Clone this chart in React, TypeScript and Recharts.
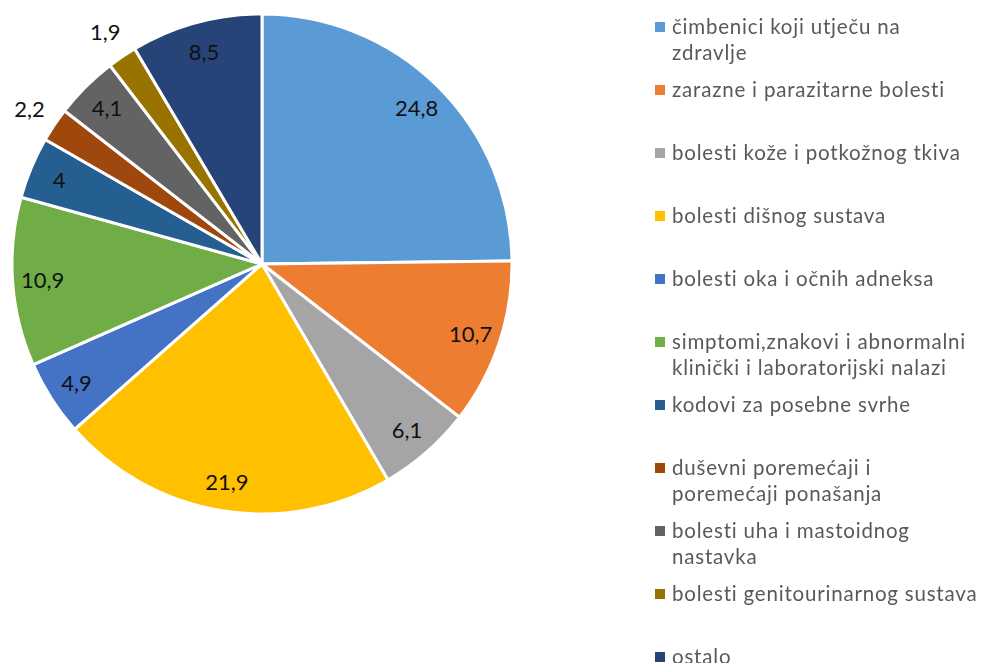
import { PieChart, Pie, Cell, Legend } from 'recharts'

const categories = [
  'čimbenici koji utječu na\nzdravlje',
  'zarazne i parazitarne bolesti',
  'bolesti kože i potkožnog tkiva',
  'bolesti dišnog sustava',
  'bolesti oka i očnih adneksa',
  'simptomi,znakovi i abnormalni\nklinički i laboratorijski nalazi',
  'kodovi za posebne svrhe',
  'duševni poremećaji i\nporemećaji ponašanja',
  'bolesti uha i mastoidnog\nnastavka',
  'bolesti genitourinarnog sustava',
  'ostalo',
]

const shares = [24.8, 10.7, 6.1, 21.9, 4.9, 10.9, 4, 2.2, 4.1, 1.9, 8.5]

const colors = [
  '#5B9BD5', '#ED7D31', '#A5A5A5', '#FFC000', '#4472C4', '#70AD47',
  '#255E91', '#9E480E', '#636363', '#997300', '#264478',
]

const data = categories.map((name, i) => ({ name, value: shares[i] }))

const RAD = Math.PI / 180
const FONT = 'Lato, "Open Sans", sans-serif'

// labels sit inside the slice; the thin ones get pushed outside (Excel "best fit")
function renderLabel(props: any) {
  const { cx, cy, midAngle, outerRadius, value } = props
  const r = value < 3 ? outerRadius * 1.12 : outerRadius * 0.88
  const x = cx + r * Math.cos(-midAngle * RAD)
  const y = cy + r * Math.sin(-midAngle * RAD)
  return (
    <text
      x={x}
      y={y}
      fill="#111"
      fontSize={22}
      fontFamily={FONT}
      textAnchor="middle"
      dominantBaseline="central"
    >
      {String(value).replace('.', ',')}
    </text>
  )
}

function LegendList() {
  return (
    <div style={{ fontFamily: FONT, fontSize: 20.5, letterSpacing: 0.8, color: '#595959' }}>
      {categories.map((name, i) => (
        <div key={i} style={{ height: 63, display: 'flex', alignItems: 'flex-start' }}>
          <span
            style={{
              width: 10,
              height: 10,
              background: colors[i],
              marginTop: 8,
              marginRight: 7,
              flexShrink: 0,
            }}
          />
          <span style={{ whiteSpace: 'pre-line', lineHeight: '25.5px' }}>{name}</span>
        </div>
      ))}
    </div>
  )
}

export default function App() {
  return (
    <div style={{ position: 'fixed', left: 0, top: 0, width: 983, height: 663, background: '#fff' }}>
      <PieChart width={983} height={663} margin={{ top: 0, right: 0, bottom: 0, left: 0 }}>
        <Pie
          data={data}
          dataKey="value"
          nameKey="name"
          cx={262}
          cy={264}
          outerRadius={250}
          startAngle={90}
          endAngle={-270}
          stroke="#fff"
          strokeWidth={3}
          label={renderLabel}
          labelLine={false}
          isAnimationActive={false}
        >
          {data.map((_, i) => (
            <Cell key={i} fill={colors[i]} />
          ))}
        </Pie>
        <Legend
          layout="vertical"
          align="right"
          verticalAlign="top"
          content={() => <LegendList />}
          wrapperStyle={{ position: 'absolute', left: 655, top: 14, width: 328 }}
        />
      </PieChart>
    </div>
  )
}
